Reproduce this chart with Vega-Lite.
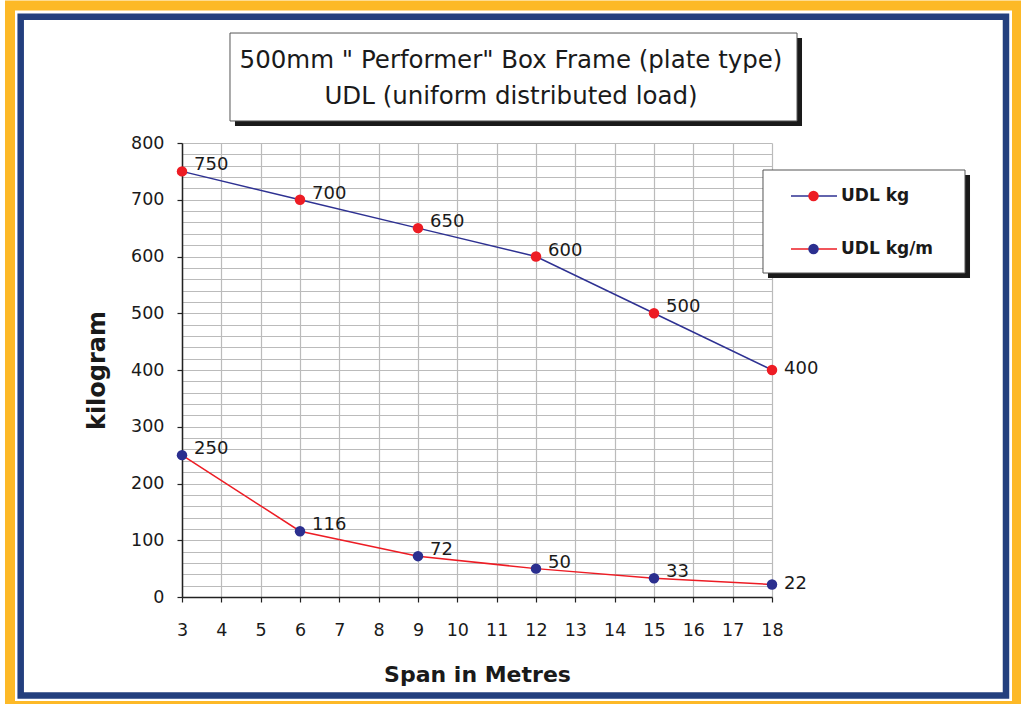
{
  "$schema": "https://vega.github.io/schema/vega-lite/v6.json",
  "autosize": "none",
  "width": 590,
  "height": 454,
  "padding": {"left": 182, "top": 143, "right": 249, "bottom": 107},
  "background": "white",
  "config": {
    "view": {"stroke": null},
    "font": "DejaVu Sans"
  },
  "title": {
    "text": ["500mm \" Performer\" Box Frame (plate type)", "UDL (uniform distributed load)"],
    "font": "DejaVu Sans",
    "fontSize": 24.5,
    "fontWeight": "normal",
    "color": "#1a1a1a",
    "lineHeight": 36,
    "anchor": "middle",
    "frame": "group",
    "dx": 34,
    "offset": -109,
    "zindex": 1
  },
  "data": {
    "values": [
      {"span": 3, "series": "UDL kg", "load": 750},
      {"span": 6, "series": "UDL kg", "load": 700},
      {"span": 9, "series": "UDL kg", "load": 650},
      {"span": 12, "series": "UDL kg", "load": 600},
      {"span": 15, "series": "UDL kg", "load": 500},
      {"span": 18, "series": "UDL kg", "load": 400},
      {"span": 3, "series": "UDL kg/m", "load": 250},
      {"span": 6, "series": "UDL kg/m", "load": 116},
      {"span": 9, "series": "UDL kg/m", "load": 72},
      {"span": 12, "series": "UDL kg/m", "load": 50},
      {"span": 15, "series": "UDL kg/m", "load": 33},
      {"span": 18, "series": "UDL kg/m", "load": 22}
    ]
  },
  "layer": [
    {
      "data": {"values": [{}]},
      "mark": {"type": "rect", "fill": null, "fillOpacity": 0, "stroke": "#fdb927", "strokeWidth": 10},
      "encoding": {
        "x": {"datum": -1.373, "type": "quantitative", "scale": {"domain": [3, 18], "nice": false, "zero": false}},
        "x2": {"datum": 24.229},
        "y": {"datum": 1042.3, "type": "quantitative", "scale": {"domain": [0, 800], "nice": false, "zero": false}},
        "y2": {"datum": -192.1}
      }
    },
    {
      "data": {"values": [{}]},
      "mark": {"type": "rect", "fill": null, "fillOpacity": 0, "stroke": "#233f7e", "strokeWidth": 6.5},
      "encoding": {
        "x": {"datum": -1.101, "type": "quantitative"},
        "x2": {"datum": 23.949},
        "y": {"datum": 1022.6, "type": "quantitative"},
        "y2": {"datum": -173.6}
      }
    },
    {
      "data": {"values": [{}]},
      "mark": {"type": "rect", "fill": "#1a1a1a"},
      "encoding": {
        "x": {"datum": 4.347, "type": "quantitative"},
        "x2": {"datum": 18.763},
        "y": {"datum": 985.0, "type": "quantitative"},
        "y2": {"datum": 830.0}
      }
    },
    {
      "data": {"values": [{}]},
      "mark": {"type": "rect", "fill": "white", "stroke": "#555555", "strokeWidth": 1},
      "encoding": {
        "x": {"datum": 4.22, "type": "quantitative"},
        "x2": {"datum": 18.636},
        "y": {"datum": 993.8, "type": "quantitative"},
        "y2": {"datum": 838.8}
      }
    },
    {
      "data": {"values": [{}]},
      "mark": {"type": "rect", "fill": "#1a1a1a"},
      "encoding": {
        "x": {"datum": 17.898, "type": "quantitative"},
        "x2": {"datum": 23.034},
        "y": {"datum": 743.6, "type": "quantitative"},
        "y2": {"datum": 562.1}
      }
    },
    {
      "data": {"values": [{}]},
      "mark": {"type": "rect", "fill": "white", "stroke": "#555555", "strokeWidth": 1},
      "encoding": {
        "x": {"datum": 17.771, "type": "quantitative"},
        "x2": {"datum": 22.907},
        "y": {"datum": 752.4, "type": "quantitative"},
        "y2": {"datum": 570.9}
      }
    },
    {
      "encoding": {
        "x": {
          "field": "span",
          "type": "quantitative",
          "title": "Span in Metres",
          "scale": {"domain": [3, 18], "nice": false, "zero": false},
          "axis": {
            "values": [3, 4, 5, 6, 7, 8, 9, 10, 11, 12, 13, 14, 15, 16, 17, 18],
            "tickCount": 100,
            "format": "d",
            "labelFont": "DejaVu Sans",
            "labelFontSize": 17.5,
            "labelColor": "#1a1a1a",
            "labelPadding": 19,
            "labelFlush": false,
            "labelOverlap": false,
            "domainColor": "#222222",
            "domainWidth": 1.5,
            "tickColor": "#222222",
            "tickWidth": 1.2,
            "tickSize": 5,
            "grid": true,
            "gridColor": "#bbbbbb",
            "gridWidth": 1.2,
            "titleFont": "DejaVu Sans",
            "titleFontSize": 22,
            "titleFontWeight": "bold",
            "titleColor": "#1a1a1a",
            "titlePadding": 26
          }
        },
        "y": {
          "field": "load",
          "type": "quantitative",
          "title": "kilogram",
          "scale": {"domain": [0, 800], "nice": false, "zero": false},
          "axis": {
            "values": [0, 20, 40, 60, 80, 100, 120, 140, 160, 180, 200, 220, 240, 260, 280, 300, 320, 340, 360, 380, 400, 420, 440, 460, 480, 500, 520, 540, 560, 580, 600, 620, 640, 660, 680, 700, 720, 740, 760, 780, 800],
            "tickCount": 100,
            "format": "d",
            "labelExpr": "datum.value % 100 === 0 ? datum.label : ''",
            "labelFont": "DejaVu Sans",
            "labelFontSize": 17.5,
            "labelColor": "#1a1a1a",
            "labelPadding": 13,
            "labelFlush": false,
            "labelOverlap": false,
            "domainColor": "#222222",
            "domainWidth": 1.5,
            "tickColor": "#222222",
            "tickWidth": 1.2,
            "tickSize": 5,
            "tickOpacity": {"condition": {"test": "datum.value % 100 === 0", "value": 1}, "value": 0},
            "grid": true,
            "gridColor": "#bbbbbb",
            "gridWidth": 1.2,
            "titleFont": "DejaVu Sans",
            "titleFontSize": 24,
            "titleFontWeight": "bold",
            "titleColor": "#1a1a1a",
            "titlePadding": 21
          }
        }
      },
      "layer": [
        {
          "mark": {"type": "line", "strokeWidth": 1.5},
          "encoding": {
            "stroke": {
              "field": "series",
              "type": "nominal",
              "scale": {"domain": ["UDL kg", "UDL kg/m"], "range": ["#2e3192", "#ed1c24"]},
              "legend": {
                "orient": "none",
                "legendX": 608,
                "legendY": 30,
                "title": null,
                "padding": 0,
                "symbolType": "stroke",
                "symbolSize": 2116,
                "symbolStrokeWidth": 1.5,
                "labelFont": "DejaVu Sans",
                "labelFontSize": 17,
                "labelFontWeight": "bold",
                "labelColor": "#1a1a1a",
                "labelOffset": 3,
                "clipHeight": 46,
                "rowPadding": 7,
                "zindex": 1
              }
            }
          }
        },
        {
          "mark": {"type": "point", "filled": true, "size": 110, "opacity": 1},
          "encoding": {
            "fill": {
              "field": "series",
              "type": "nominal",
              "scale": {"range": ["#ed1c24", "#2b2f8f"]},
              "legend": {
                "orient": "none",
                "legendX": 623,
                "legendY": 30,
                "title": null,
                "padding": 0,
                "symbolType": "circle",
                "symbolSize": 110,
                "symbolOpacity": 1,
                "labelExpr": "''",
                "labelFontSize": 17,
                "clipHeight": 46,
                "rowPadding": 7,
                "zindex": 2
              }
            }
          }
        },
        {
          "transform": [{"filter": "datum.span < 18"}],
          "mark": {"type": "text", "align": "left", "baseline": "middle", "dx": 12, "dy": -6, "font": "DejaVu Sans", "fontSize": 18, "color": "#1a1a1a"},
          "encoding": {"text": {"field": "load", "type": "quantitative"}}
        },
        {
          "transform": [{"filter": "datum.span >= 18"}],
          "mark": {"type": "text", "align": "left", "baseline": "middle", "dx": 12, "dy": -1, "font": "DejaVu Sans", "fontSize": 18, "color": "#1a1a1a"},
          "encoding": {"text": {"field": "load", "type": "quantitative"}}
        }
      ]
    }
  ]
}
